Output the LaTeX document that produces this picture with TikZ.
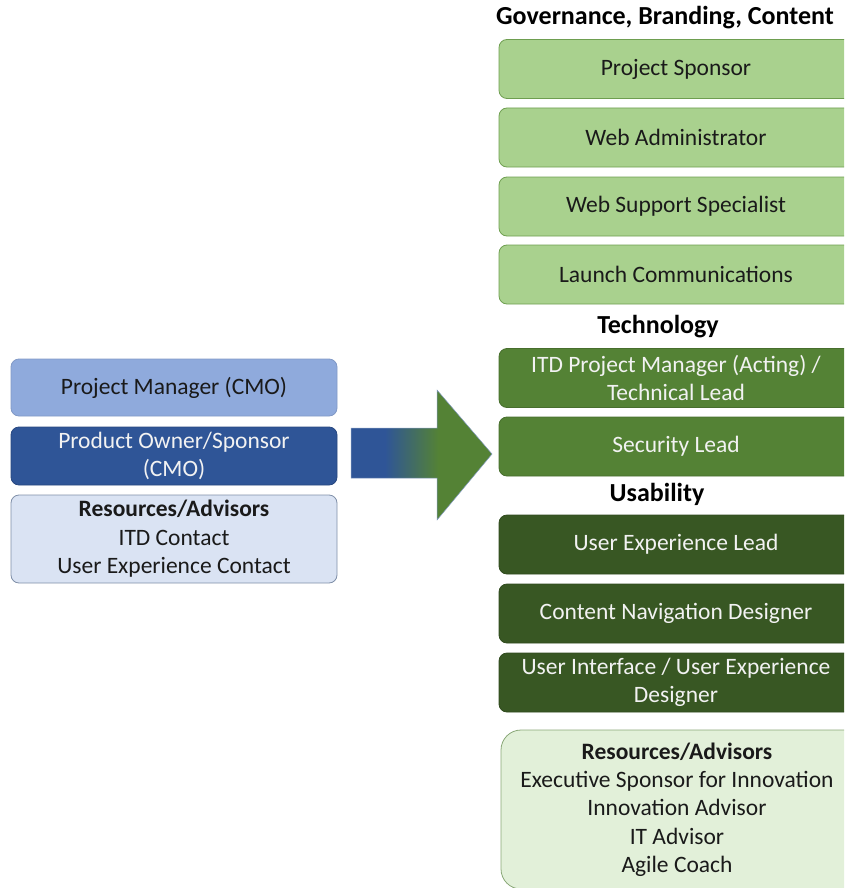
\documentclass[tikz,border=0pt]{standalone}
\usepackage{fontspec}
\setmainfont{Carlito}
\definecolor{lblue}{HTML}{8FAADC}
\definecolor{dblue}{HTML}{2F5597}
\definecolor{rblue}{HTML}{DAE3F3}
\definecolor{rbluedraw}{HTML}{7F8FA8}
\definecolor{lgreen}{HTML}{A9D18E}
\definecolor{lgreendraw}{HTML}{6E9E50}
\definecolor{mgreen}{HTML}{548235}
\definecolor{dgreen}{HTML}{385723}
\definecolor{rgreen}{HTML}{E2F0D9}
\definecolor{rgreendraw}{HTML}{8AA878}
\definecolor{txtdark}{HTML}{1A1A1A}
\definecolor{txtlight}{HTML}{F2F2F2}
\pgfdeclarehorizontalshading{arrowshade}{100bp}{color(0bp)=(dblue); color(37bp)=(dblue); color(56bp)=(mgreen); color(100bp)=(mgreen)}
\newcommand{\padr}{\rule{20pt}{0pt}}
\newcommand{\padrr}{\rule{22pt}{0pt}}
\begin{document}
\begin{tikzpicture}[x=1pt,y=-1pt,
  box/.style={rectangle, rounded corners=8pt, align=center, inner sep=0pt,
    font=\fontsize{23.5}{27.5}\selectfont, line width=0.8pt},
  rbox/.style={box, minimum width=374pt, minimum height=59pt},
  lbox/.style={box, minimum width=326pt},
  light/.style={fill=lgreen, draw=lgreendraw, text=txtdark},
  mid/.style={fill=mgreen, draw=mgreen!85!black, text=txtlight},
  dark/.style={fill=dgreen, draw=dgreen!85!black, text=txtlight},
  head/.style={font=\fontsize{26}{26}\selectfont\bfseries, text=black, inner sep=0pt}]
\useasboundingbox (0,0) rectangle (844,888);
\clip (0,0) rectangle (844,888);

% left column
\node[lbox, minimum height=57pt, fill=lblue, draw=lblue!90!black, text=txtdark] (pm) at (174,387.5) {Project Manager (CMO)};
\node[lbox, minimum height=58pt, fill=dblue, draw=dblue!85!black, text=txtlight] (po) at (174,456) {Product Owner/Sponsor\\(CMO)};
\node[lbox, minimum height=88pt, fill=rblue, draw=rbluedraw, text=txtdark, font=\fontsize{23.5}{28.5}\selectfont] (lres) at (174,539) {\rule{0pt}{6pt}\textbf{Resources/Advisors}\\ITD Contact\\User Experience Contact};

% arrow
\path[shading=arrowshade, draw=dblue!60!white, line width=0.5pt]
  (351,428) -- (437,428) -- (437,390) -- (492,454) -- (437,520) -- (437,478) -- (351,478) -- cycle;

% right column (boxes run past the right edge; text kept centred at x=676)
\node[head] (hgov) at (665,18) {Governance, Branding, Content};
\node[rbox, light] (r1) at (686,69) {Project Sponsor\padr};
\node[rbox, light] (r2) at (686,137.5) {Web Administrator\padr};
\node[rbox, light] (r3) at (686,206.5) {Web Support Specialist\padr};
\node[rbox, light] (r4) at (686,274.5) {Launch Communications\padr};
\node[head] (htech) at (658,327) {Technology};
\node[rbox, mid] (r5) at (686,378) {ITD Project Manager (Acting) /\padr\\Technical Lead\padr};
\node[rbox, mid] (r6) at (686,446.5) {Security Lead\padr};
\node[head] (husa) at (657,494) {Usability};
\node[rbox, dark] (r7) at (686,544.5) {User Experience Lead\padr};
\node[rbox, dark] (r8) at (686,613.5) {Content Navigation Designer\padr};
\node[rbox, dark] (r9) at (686,682.5) {User Interface / User Experience\padr\\Designer\padr};
\node[box, rounded corners=20pt, minimum width=374pt, minimum height=159pt, fill=rgreen, draw=rgreendraw, text=txtdark, font=\fontsize{23.5}{28.3}\selectfont] (rres) at (688,809.5)
  {\rule{0pt}{4pt}\textbf{Resources/Advisors}\padrr\\Executive Sponsor for Innovation\padrr\\Innovation Advisor\padrr\\IT Advisor\padrr\\Agile Coach\padrr};
\end{tikzpicture}
\end{document}
